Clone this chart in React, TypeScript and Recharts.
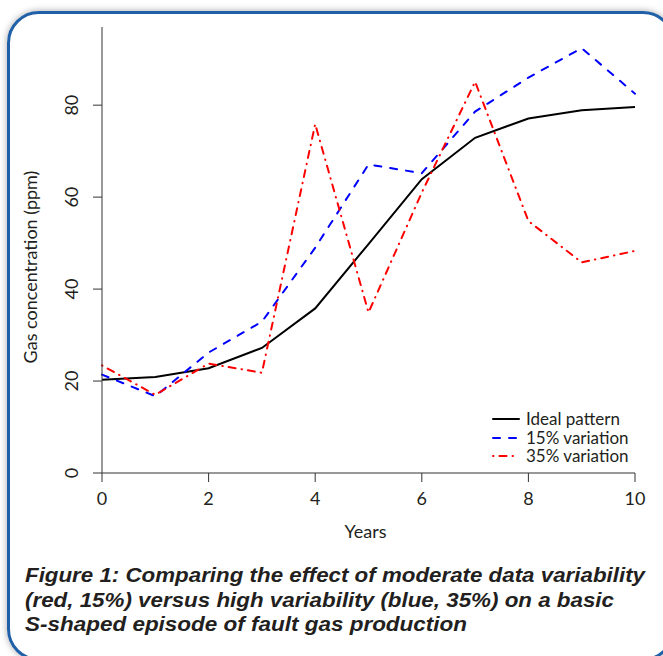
import React from "react";
import { LineChart, Line, XAxis, YAxis, Legend } from "recharts";

const years = [0, 1, 2, 3, 4, 5, 6, 7, 8, 9, 10];
const ideal = [20.3, 20.9, 22.8, 27.2, 35.8, 49.8, 63.9, 72.9, 77.1, 78.9, 79.6];
const var15 = [21.4, 16.7, 26.2, 32.9, 49.0, 67.1, 65.2, 78.6, 86.0, 92.4, 82.5];
const var35 = [23.4, 17.0, 23.8, 21.8, 75.9, 34.9, 61.0, 85.1, 54.8, 45.8, 48.3];

const xTicks = [0, 2, 4, 6, 8, 10];
const yTicks = [0, 20, 40, 60, 80];

const caption = [
  "Figure 1: Comparing the effect of moderate data variability",
  "(red, 15%) versus high variability (blue, 35%) on a basic",
  "S-shaped episode of fault gas production",
];
// measured widths of the caption lines in the figure
const captionWidths = [620, 589, 442];

const data = years.map((yr, i) => ({
  year: yr,
  ideal: ideal[i],
  var15: var15[i],
  var35: var35[i],
}));

const FONT = "Lato, 'Open Sans', sans-serif";
const INK = "#231f20";

const seriesOrder = ["ideal", "var15", "var35"];
const lineStyles: Record<string, { color: string; dash?: string }> = {
  ideal: { color: "#000000" },
  var15: { color: "#0000ff", dash: "7 9" },
  var35: { color: "#ff0000", dash: "0.5 6 7 6" },
};

function YTick(props: any) {
  const { x, y, payload } = props;
  return (
    <text
      x={x}
      y={y}
      transform={`rotate(-90, ${x}, ${y})`}
      textAnchor="middle"
      fill={INK}
      fontSize={18}
      fontFamily={FONT}
    >
      {payload.value}
    </text>
  );
}

function LegendBox(props: any) {
  const items = [...(props.payload || [])].sort(
    (a: any, b: any) => seriesOrder.indexOf(a.dataKey) - seriesOrder.indexOf(b.dataKey)
  );
  return (
    <div style={{ fontFamily: FONT, fontSize: 17, color: INK }}>
      {items.map((it: any) => {
        const st = lineStyles[it.dataKey] || { color: it.color };
        return (
          <div
            key={it.dataKey}
            style={{ display: "flex", alignItems: "center", height: 18.5, whiteSpace: "nowrap" }}
          >
            <svg width={28} height={10} style={{ marginRight: 6 }}>
              <line
                x1={1}
                y1={5}
                x2={27}
                y2={5}
                stroke={st.color}
                strokeWidth={2}
                strokeDasharray={st.dash}
                strokeLinecap="round"
              />
            </svg>
            <span style={{ lineHeight: "18px" }}>{it.value}</span>
          </div>
        );
      })}
    </div>
  );
}

export default function App() {
  return (
    <div
      style={{
        position: "fixed",
        left: 0,
        top: 0,
        width: 663,
        height: 656,
        overflow: "hidden",
        background: "#fff",
      }}
    >
      <div
        style={{
          position: "absolute",
          left: 7,
          top: 11,
          width: 668,
          height: 650,
          border: "3px solid #1f60a8",
          borderRadius: 32,
          boxShadow: "0 0 7px rgba(0,0,0,0.35)",
          boxSizing: "border-box",
        }}
      />
      <div style={{ position: "absolute", left: 0, top: 0 }}>
        <LineChart
          width={663}
          height={560}
          data={data}
          margin={{ top: 27, right: 28, left: 0, bottom: 0 }}
          style={{ fontFamily: FONT }}
        >
          <XAxis
            dataKey="year"
            type="number"
            domain={[0, 10]}
            ticks={xTicks}
            height={87}
            tickSize={9}
            tickMargin={10}
            stroke="#333"
            tick={{ fill: INK, fontSize: 18, fontFamily: FONT }}
            label={(p: any) => {
              const vb = p.viewBox;
              return (
                <text
                  x={vb.x + vb.width / 2 - 3}
                  y={538}
                  textAnchor="middle"
                  fill={INK}
                  fontSize={18}
                  fontFamily={FONT}
                >
                  Years
                </text>
              );
            }}
          />
          <YAxis
            type="number"
            domain={[0, 97]}
            ticks={yTicks}
            width={102}
            tickSize={9}
            tickMargin={15}
            stroke="#333"
            tick={<YTick />}
            label={(p: any) => {
              const vb = p.viewBox;
              const lx = vb.x + 37;
              const ly = 267;
              return (
                <text
                  x={lx}
                  y={ly}
                  transform={`rotate(-90, ${lx}, ${ly})`}
                  textAnchor="middle"
                  fill={INK}
                  fontSize={18}
                  fontFamily={FONT}
                >
                  Gas concentration (ppm)
                </text>
              );
            }}
          />
          <Legend
            layout="vertical"
            align="center"
            verticalAlign="middle"
            wrapperStyle={{ position: "absolute", left: 492, top: 410, width: 160 }}
            content={<LegendBox />}
          />
          <Line
            dataKey="ideal"
            name="Ideal pattern"
            stroke={lineStyles.ideal.color}
            strokeWidth={2}
            dot={false}
            type="linear"
            isAnimationActive={false}
          />
          <Line
            dataKey="var15"
            name="15% variation"
            stroke={lineStyles.var15.color}
            strokeWidth={2}
            strokeDasharray={lineStyles.var15.dash}
            strokeLinecap="round"
            dot={false}
            type="linear"
            isAnimationActive={false}
          />
          <Line
            dataKey="var35"
            name="35% variation"
            stroke={lineStyles.var35.color}
            strokeWidth={2}
            strokeDasharray={lineStyles.var35.dash}
            strokeLinecap="round"
            dot={false}
            type="linear"
            isAnimationActive={false}
          />
        </LineChart>
      </div>
      <svg
        width={663}
        height={90}
        style={{ position: "absolute", left: 0, top: 560 }}
      >
        {caption.map((c, i) => (
          <text
            key={c}
            x={25}
            y={22 + i * 24.6}
            textLength={captionWidths[i]}
            lengthAdjust="spacingAndGlyphs"
            fontFamily="'Liberation Sans', Arial, sans-serif"
            fontWeight="bold"
            fontStyle="italic"
            fontSize={20}
            fill={INK}
          >
            {c}
          </text>
        ))}
      </svg>
    </div>
  );
}
